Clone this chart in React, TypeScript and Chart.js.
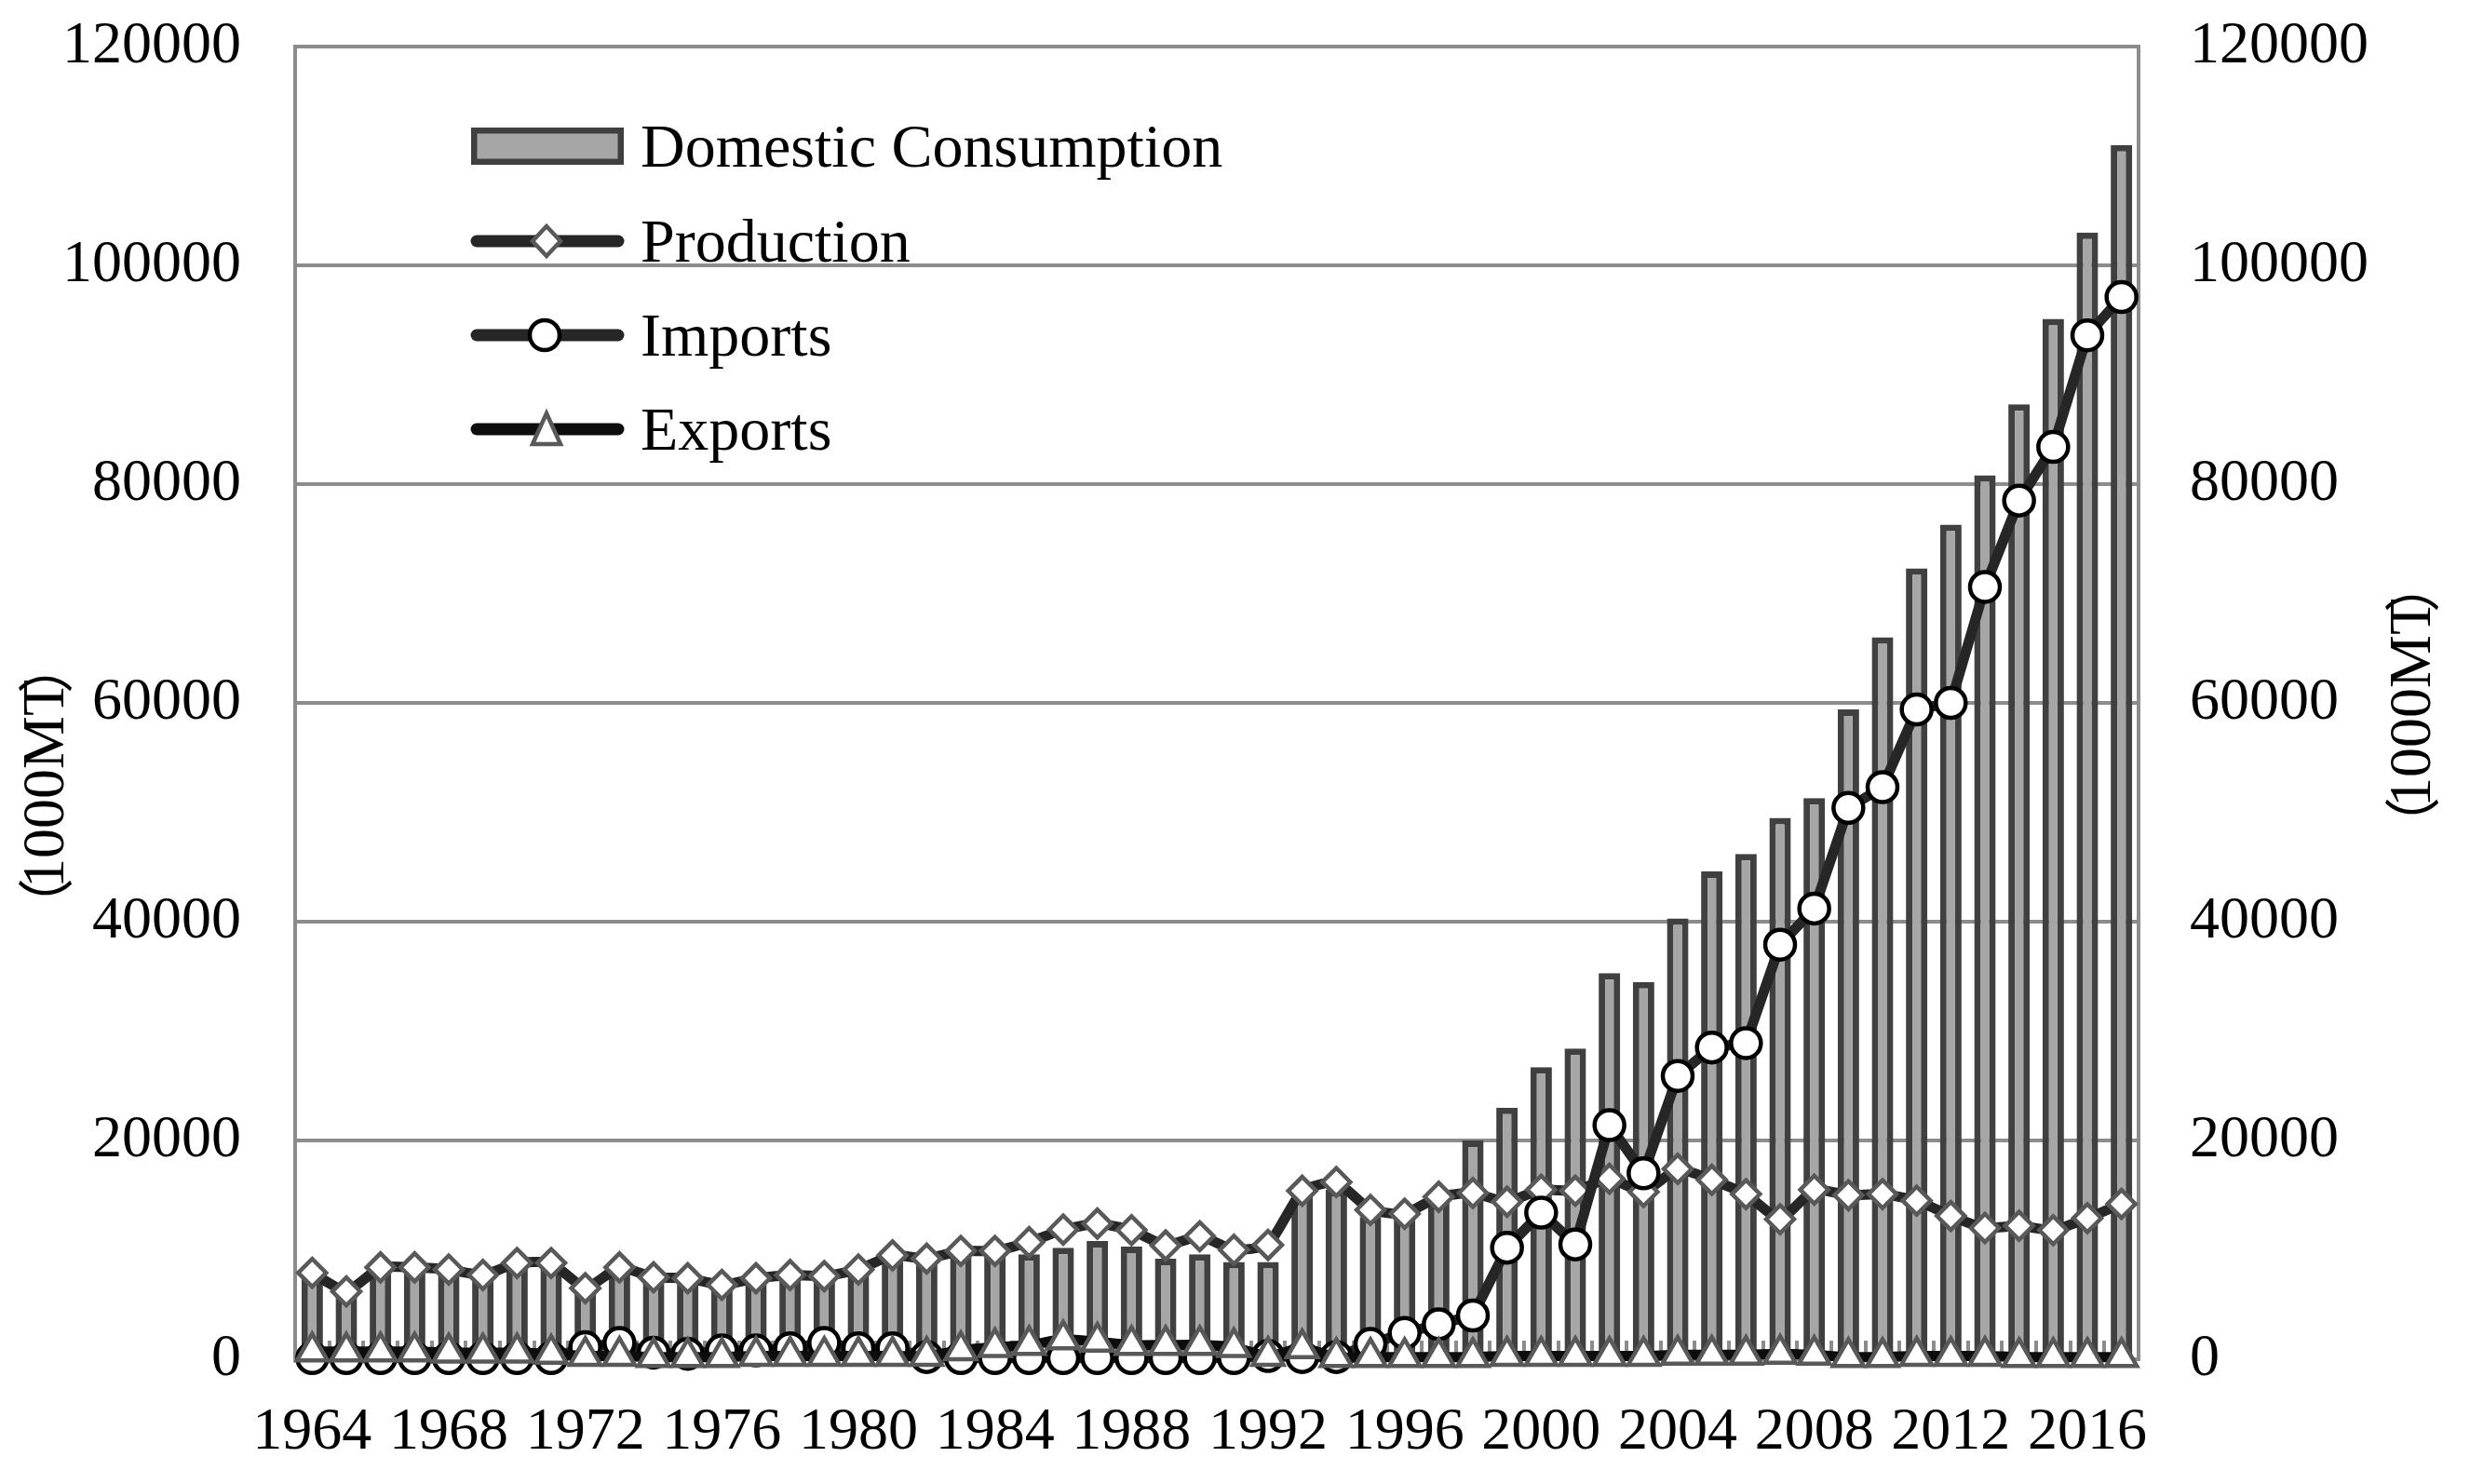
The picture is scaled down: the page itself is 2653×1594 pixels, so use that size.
import Chart from "chart.js/auto";
import { useEffect, useRef } from "react";

const years = [
  "1964", "1965", "1966", "1967", "1968", "1969", "1970", "1971", "1972", "1973",
  "1974", "1975", "1976", "1977", "1978", "1979", "1980", "1981", "1982", "1983",
  "1984", "1985", "1986", "1987", "1988", "1989", "1990", "1991", "1992", "1993",
  "1994", "1995", "1996", "1997", "1998", "1999", "2000", "2001", "2002", "2003",
  "2004", "2005", "2006", "2007", "2008", "2009", "2010", "2011", "2012", "2013",
  "2014", "2015", "2016", "2017",
];

// only every fourth year gets a label
const yearLabels = [
  "1964", "1968", "1972", "1976", "1980", "1984", "1988",
  "1992", "1996", "2000", "2004", "2008", "2012", "2016",
];

const yTicks = [0, 20000, 40000, 60000, 80000, 100000, 120000];

// 1000 MT
const consumption = [
  7500, 5900, 8000, 8000, 7800, 7300, 8400, 8400, 6100, 8000,
  7100, 6900, 6400, 7000, 7300, 7200, 7800, 9000, 8800, 9400,
  9400, 9600, 10200, 10800, 10300, 9200, 9600, 8900, 8900, 15000,
  15500, 13000, 13000, 14300, 20000, 23000, 26700, 28400, 35300, 34500,
  40300, 44600, 46200, 49500, 51300, 59400, 66000, 72300, 76300, 80800,
  87300, 95100, 103000, 111000,
];

const production = [
  7900, 6200, 8400, 8400, 8200, 7700, 8800, 8800, 6500, 8400,
  7500, 7400, 6800, 7400, 7700, 7600, 8200, 9500, 9200, 9900,
  9900, 10700, 11850, 12400, 11800, 10400, 11250, 10000, 10450, 15400,
  16200, 13650, 13300, 14850, 15200, 14400, 15500, 15400, 16500, 15300,
  17400, 16400, 15100, 12800, 15500, 15000, 15100, 14500, 13100, 12000,
  12200, 11800, 12900, 14200,
];

const imports = [
  100, 100, 100, 100, 100, 100, 100, 100, 1100, 1500,
  600, 500, 800, 800, 1000, 1500, 1000, 1000, 200, 100,
  100, 100, 100, 100, 100, 100, 100, 100, 300, 200,
  200, 1400, 2400, 3200, 4000, 10200, 13400, 10500, 21400, 17000,
  25900, 28500, 28900, 37900, 41200, 50400, 52300, 59400, 60000, 70600,
  78500, 83400, 93600, 97100,
];

const exportsData = [
  700, 700, 700, 700, 600, 600, 600, 500, 300, 300,
  200, 200, 200, 300, 300, 300, 300, 300, 300, 800,
  1100, 1300, 1800, 1600, 1300, 1300, 1300, 1100, 300, 1000,
  200, 200, 200, 200, 200, 300, 300, 300, 300, 300,
  400, 400, 400, 500, 400, 200, 200, 300, 300, 300,
  200, 200, 200, 200,
];

const FONT = "'Liberation Serif', 'Times New Roman', serif";
const CJK = "'Noto Sans CJK SC', 'Liberation Serif', serif";
const GRID = "#8c8c8c";

const overlayPlugin = {
  id: "overlay",
  afterDraw(chart: any) {
    const ctx: CanvasRenderingContext2D = chart.ctx;
    ctx.save();

    // axis titles, both read bottom to top
    ctx.fillStyle = "#000";
    ctx.textAlign = "center";
    ctx.textBaseline = "middle";
    [
      [51, 845],
      [2593, 758],
    ].forEach(([x, y]) => {
      ctx.save();
      ctx.translate(x, y);
      ctx.rotate(-Math.PI / 2);
      ctx.font = `64px ${FONT}`;
      ctx.fillText("1000MT", 3, 0);
      ctx.font = `60px ${CJK}`;
      ctx.fillText("（", -128, -2);
      ctx.fillText("）", 130, -2);
      ctx.restore();
    });

    // legend inside the plot
    const x0 = 506;
    const x1 = 670;
    const mx = 587;
    const rows = [157, 259, 360, 461];

    ctx.fillStyle = "#404040";
    ctx.fillRect(x0, rows[0] - 20, x1 - x0, 40);
    ctx.fillStyle = "#a6a6a6";
    ctx.fillRect(x0 + 6.5, rows[0] - 13.5, x1 - x0 - 13, 27);

    const lineColors = ["#262626", "#262626", "#0d0d0d"];
    ctx.lineCap = "round";
    for (let i = 0; i < 3; i++) {
      const y = rows[i + 1];
      ctx.strokeStyle = lineColors[i];
      ctx.lineWidth = 13;
      ctx.beginPath();
      ctx.moveTo(x0 + 6, y);
      ctx.lineTo(x1 - 6, y);
      ctx.stroke();
    }
    ctx.lineCap = "butt";
    ctx.lineJoin = "miter";
    ctx.fillStyle = "#fff";
    ctx.lineWidth = 4.5;

    // diamond
    let y = rows[1];
    ctx.strokeStyle = "#595959";
    ctx.beginPath();
    ctx.moveTo(mx, y - 16);
    ctx.lineTo(mx + 15, y);
    ctx.lineTo(mx, y + 16);
    ctx.lineTo(mx - 15, y);
    ctx.closePath();
    ctx.fill();
    ctx.stroke();

    // circle
    y = rows[2];
    ctx.strokeStyle = "#000";
    ctx.beginPath();
    ctx.arc(mx - 2, y, 16, 0, Math.PI * 2);
    ctx.fill();
    ctx.stroke();

    // triangle
    y = rows[3];
    ctx.strokeStyle = "#595959";
    ctx.beginPath();
    ctx.moveTo(mx, y - 17);
    ctx.lineTo(mx + 15, y + 16);
    ctx.lineTo(mx - 15, y + 16);
    ctx.closePath();
    ctx.fill();
    ctx.stroke();

    ctx.fillStyle = "#000";
    ctx.font = `66px ${FONT}`;
    ctx.textAlign = "left";
    ctx.textBaseline = "alphabetic";
    const names = ["Domestic Consumption", "Production", "Imports", "Exports"];
    names.forEach((name, i) => ctx.fillText(name, 688, rows[i] + 22));

    ctx.restore();
  },
};

export default function App() {
  const canvasRef = useRef<HTMLCanvasElement | null>(null);

  useEffect(() => {
    if (!canvasRef.current) {
      return;
    }

    const canvas = canvasRef.current.getContext("2d");

    if (!canvas) {
      return;
    }

    const tickFont = { family: FONT, size: 64 };
    const setTicks = (scale: any) => {
      scale.ticks = yTicks.map((v) => ({ value: v }));
    };

    const chart = new Chart(canvas, {
      type: "bar",
      data: {
        labels: years,
        datasets: [
          {
            type: "line",
            label: "Exports",
            data: exportsData,
            yAxisID: "y1",
            order: 0,
            borderColor: "#0d0d0d",
            borderWidth: 11,
            tension: 0.3,
            pointStyle: "triangle",
            pointRadius: 19,
            pointBorderWidth: 4.5,
            pointBorderColor: "#595959",
            pointBackgroundColor: "#ffffff",
            clip: false,
          },
          {
            type: "line",
            label: "Imports",
            data: imports,
            yAxisID: "y1",
            order: 1,
            borderColor: "#262626",
            borderWidth: 11,
            tension: 0,
            pointStyle: "circle",
            pointRadius: 16,
            pointBorderWidth: 4.5,
            pointBorderColor: "#000000",
            pointBackgroundColor: "#ffffff",
            clip: false,
          },
          {
            type: "line",
            label: "Production",
            data: production,
            yAxisID: "y1",
            order: 2,
            borderColor: "#262626",
            borderWidth: 11,
            tension: 0.15,
            pointStyle: "rectRot",
            pointRadius: 15,
            pointBorderWidth: 4.5,
            pointBorderColor: "#595959",
            pointBackgroundColor: "#ffffff",
            clip: false,
          },
          {
            type: "bar",
            label: "Domestic Consumption",
            data: consumption,
            yAxisID: "y",
            order: 3,
            backgroundColor: "#a6a6a6",
            borderColor: "#404040",
            borderWidth: 7,
            borderSkipped: false,
            categoryPercentage: 1,
            barPercentage: 0.63,
          },
        ],
      },
      options: {
        animation: false,
        responsive: true,
        maintainAspectRatio: false,
        events: [],
        layout: { padding: { top: 50, left: 0, right: 0, bottom: 0 } },
        plugins: {
          legend: { display: false },
          tooltip: { enabled: false },
          title: { display: false },
        },
        scales: {
          x: {
            offset: true,
            grid: {
              display: true,
              offset: true,
              drawOnChartArea: false,
              drawTicks: true,
              tickLength: -20,
              color: GRID,
              lineWidth: 4,
            },
            border: { display: true, color: GRID, width: 4 },
            ticks: {
              autoSkip: false,
              maxRotation: 0,
              minRotation: 0,
              padding: 61,
              color: "#000",
              font: tickFont,
              callback: (_value: any, index: number) =>
                yearLabels.includes(years[index]) ? years[index] : "",
            },
            afterFit: (scale: any) => {
              scale.height = 134;
              scale.paddingLeft = 0;
              scale.paddingRight = 0;
            },
          },
          y: {
            position: "left",
            min: 0,
            max: 120000,
            afterBuildTicks: setTicks,
            grid: { color: GRID, lineWidth: 4, drawTicks: false },
            border: { display: true, color: GRID, width: 4 },
            ticks: {
              padding: 58,
              color: "#000",
              font: tickFont,
              callback: (v: any) => String(v),
            },
            afterFit: (scale: any) => {
              scale.width = 317;
              scale.paddingTop = 0;
              scale.paddingBottom = 0;
            },
          },
          y1: {
            position: "right",
            min: 0,
            max: 120000,
            afterBuildTicks: setTicks,
            grid: { drawOnChartArea: false, drawTicks: false },
            border: { display: true, color: GRID, width: 4 },
            ticks: {
              padding: 55,
              color: "#000",
              font: tickFont,
              callback: (v: any) => String(v),
            },
            afterFit: (scale: any) => {
              scale.width = 356;
              scale.paddingTop = 0;
              scale.paddingBottom = 0;
            },
          },
        },
      },
      plugins: [overlayPlugin],
    });

    return () => {
      chart.destroy();
    };
  }, []);

  return (
    <div
      style={{
        position: "absolute",
        left: 0,
        top: 0,
        width: 2653,
        height: 1594,
        background: "#ffffff",
      }}
    >
      <canvas ref={canvasRef}></canvas>
    </div>
  );
}
